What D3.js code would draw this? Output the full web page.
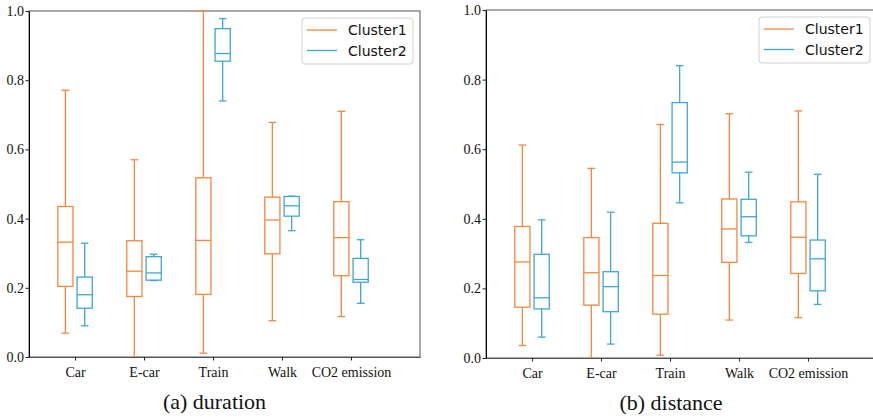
<!DOCTYPE html>
<html>
<head>
<meta charset="utf-8">
<script src="https://cdn.jsdelivr.net/npm/d3@7"></script>
<style>
  body { margin: 0; background: #fff; }
  svg { display: block; }
  .serif { font-family: "Liberation Serif", "DejaVu Serif", "Noto Serif", Times, serif; }
</style>
</head>
<body>
<svg width="873" height="418"></svg>
<script>
// five-number summaries: [whisker low, q1, median, q3, whisker high]
var categories = ["Car", "E-car", "Train", "Walk", "CO2 emission"];
var seriesNames = ["Cluster1", "Cluster2"];
var yTicks = [0.0, 0.2, 0.4, 0.6, 0.8, 1.0];

var durationCluster1 = [
    [0.069, 0.204, 0.332, 0.435, 0.771],
    [0.000, 0.175, 0.248, 0.336, 0.570],
    [0.011, 0.181, 0.337, 0.518, 1.000],
    [0.105, 0.298, 0.396, 0.462, 0.678],
    [0.117, 0.235, 0.345, 0.449, 0.710]
];
var durationCluster2 = [
    [0.090, 0.141, 0.180, 0.231, 0.329],
    [0.221, 0.222, 0.243, 0.290, 0.297],
    [0.740, 0.855, 0.877, 0.949, 0.978],
    [0.365, 0.407, 0.437, 0.464, 0.465],
    [0.155, 0.216, 0.224, 0.285, 0.339]
];
var distanceCluster1 = [
    [0.036, 0.146, 0.276, 0.378, 0.612],
    [0.000, 0.152, 0.245, 0.346, 0.545],
    [0.008, 0.126, 0.237, 0.387, 0.671],
    [0.109, 0.275, 0.371, 0.457, 0.702],
    [0.116, 0.243, 0.347, 0.449, 0.710]
];
var distanceCluster2 = [
    [0.060, 0.141, 0.173, 0.298, 0.397],
    [0.040, 0.133, 0.205, 0.248, 0.419],
    [0.446, 0.532, 0.563, 0.734, 0.840],
    [0.332, 0.351, 0.406, 0.456, 0.534],
    [0.154, 0.193, 0.285, 0.339, 0.528]
];

var colors = ["#f5873f", "#3fa7d6"];

var svg = d3.select("svg");

function drawPanel(left, top, bottom, caption, captionX, data1, data2) {
    var width = 391;
    var x = d3.scaleLinear().domain([0.333, 6]).range([left, left + width]);
    var y = d3.scaleLinear().domain([0, 1]).range([bottom, top]);
    var g = svg.append("g");

    // frame
    g.append("rect")
        .attr("x", left).attr("y", top)
        .attr("width", width).attr("height", bottom - top)
        .attr("fill", "none")
        .attr("stroke", "#555")
        .attr("stroke-width", 1);

    // boxes
    var offsets = [-0.14, 0.14];
    var boxW = x(0.22) - x(0);
    [data1, data2].forEach(function(series, s) {
        series.forEach(function(d, i) {
            var cx = x(i + 1 + offsets[s]);
            var b = g.append("g")
                .attr("stroke", colors[s])
                .attr("stroke-width", 1.3)
                .attr("fill", "none");
            // whiskers
            b.append("line").attr("x1", cx).attr("x2", cx).attr("y1", y(d[0])).attr("y2", y(d[1]));
            b.append("line").attr("x1", cx).attr("x2", cx).attr("y1", y(d[3])).attr("y2", y(d[4]));
            // caps
            b.append("line").attr("x1", cx - boxW / 4).attr("x2", cx + boxW / 4).attr("y1", y(d[0])).attr("y2", y(d[0]));
            b.append("line").attr("x1", cx - boxW / 4).attr("x2", cx + boxW / 4).attr("y1", y(d[4])).attr("y2", y(d[4]));
            // box
            b.append("rect")
                .attr("x", cx - boxW / 2).attr("width", boxW)
                .attr("y", y(d[3])).attr("height", y(d[1]) - y(d[3]));
            // median
            b.append("line").attr("x1", cx - boxW / 2).attr("x2", cx + boxW / 2).attr("y1", y(d[2])).attr("y2", y(d[2]));
        });
    });

    // axes
    var yAxis = g.append("g")
        .attr("transform", "translate(" + left + ",0)")
        .call(d3.axisLeft(y).tickValues(yTicks).tickFormat(d3.format(".1f")).tickSize(3.5).tickSizeOuter(0).tickPadding(1.5));
    var xAxis = g.append("g")
        .attr("transform", "translate(0," + bottom + ")")
        .call(d3.axisBottom(x).tickValues([1, 2, 3, 4, 5]).tickFormat(function(d) { return categories[d - 1]; }).tickSize(3.5).tickSizeOuter(0).tickPadding(6.5));
    xAxis.select(".domain").attr("stroke", "#555");
    yAxis.select(".domain").attr("stroke", "#000");
    [xAxis, yAxis].forEach(function(a) {
        a.attr("font-family", null);
        a.selectAll("text")
            .attr("class", "serif")
            .attr("font-size", 14)
            .attr("fill", "#111");
        a.selectAll(".tick line").attr("stroke", "#222");
    });

    // legend
    var lx = left + width - 118, ly = top + 7;
    var legend = g.append("g");
    legend.append("rect")
        .attr("x", lx).attr("y", ly)
        .attr("width", 111).attr("height", 46)
        .attr("rx", 3)
        .attr("fill", "#fff")
        .attr("stroke", "#d0d0d0");
    seriesNames.forEach(function(name, s) {
        var yy = ly + 12 + s * 20.5;
        legend.append("line")
            .attr("x1", lx + 5).attr("x2", lx + 35)
            .attr("y1", yy).attr("y2", yy)
            .attr("stroke", colors[s]).attr("stroke-width", 1.3);
        legend.append("text")
            .attr("x", lx + 46).attr("y", yy)
            .attr("dy", "0.36em")
            .attr("font-family", "DejaVu Sans, sans-serif")
            .attr("font-size", 14)
            .attr("fill", "#111")
            .text(name);
    });

    // caption
    g.append("text")
        .attr("class", "serif")
        .attr("x", captionX).attr("y", bottom + 51.5)
        .attr("text-anchor", "middle")
        .attr("font-size", 22)
        .attr("fill", "#111")
        .text(caption);
}

drawPanel(29, 11, 357, "(a) duration", 214.5, durationCluster1, durationCluster2);
drawPanel(486, 10, 358, "(b) distance", 671, distanceCluster1, distanceCluster2);
</script>
</body>
</html>
